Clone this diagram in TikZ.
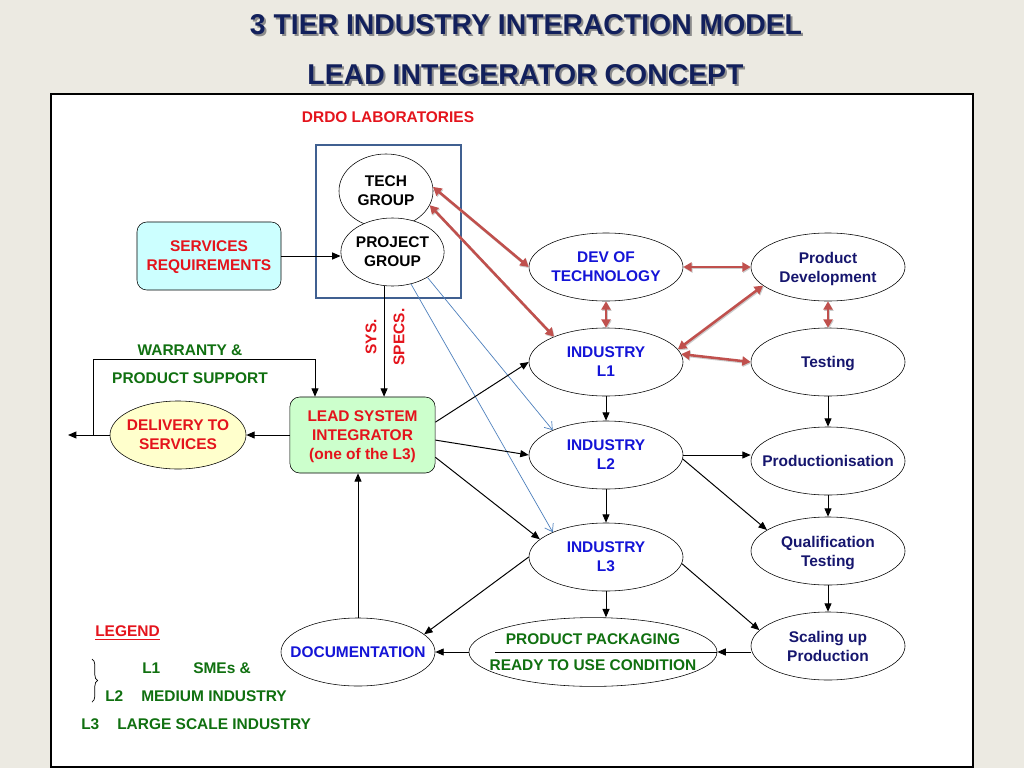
\documentclass[tikz,border=0pt]{standalone}
\usepackage{fontspec}
\setmainfont{Liberation Sans}
\usepackage{graphicx}
\usetikzlibrary{arrows.meta,shapes.geometric,decorations.pathreplacing}

\definecolor{slidebg}{RGB}{236,234,226}
\definecolor{titlenavy}{RGB}{18,32,92}
\definecolor{txtred}{RGB}{228,20,28}
\definecolor{txtgreen}{RGB}{16,112,16}
\definecolor{txtblue}{RGB}{20,20,215}
\definecolor{txtnavy}{RGB}{22,22,110}
\definecolor{linkred}{RGB}{192,80,77}
\definecolor{labblue}{RGB}{64,96,145}
\definecolor{specblue}{RGB}{79,129,189}
\definecolor{cyanfill}{RGB}{204,255,255}
\definecolor{greenfill}{RGB}{204,255,204}
\definecolor{yellowfill}{RGB}{255,255,204}

\begin{document}
\begin{tikzpicture}[x=0.025cm, y=-0.025cm,
    font=\fontsize{11}{13.4}\selectfont\bfseries,
    oval/.style={ellipse, draw, fill=white, minimum width=3.85cm, minimum height=1.7cm,
                 inner xsep=-0.5cm, inner ysep=0pt, text depth=0pt, align=center},
    box/.style={rectangle, rounded corners=7pt, draw, align=center, inner sep=0pt, text depth=0pt},
    arr/.style={-{Triangle[length=6pt,width=5pt]}, line width=0.7pt},
    redarr/.style={{Triangle[length=6pt,width=6.5pt]}-{Triangle[length=6pt,width=6.5pt]},
                   line width=1.8pt, linkred,
                   preaction={draw=black!20, line width=1.8pt, transform canvas={shift={(0.6pt,-0.8pt)}}}},
    bluearr/.style={-{Straight Barb[length=5pt,width=7pt]}, line width=0.5pt, specblue},
    lbl/.style={inner sep=0pt}]

    % Slide background and frame
    \path[use as bounding box, fill=slidebg] (0,0) rectangle (1024,768);
    \draw[line width=1.4pt, fill=white] (51,94) rectangle (973,767);

    % Titles
    \node[lbl, text=black!45] (t1s) at (528,27) {\resizebox{13.8cm}{0.5cm}{3 TIER INDUSTRY INTERACTION MODEL}};
    \node[lbl, text=titlenavy] (t1) at (526,25) {\resizebox{13.8cm}{0.5cm}{3 TIER INDUSTRY INTERACTION MODEL}};
    \node[lbl, text=black!45] (t2s) at (527.5,77) {\resizebox{10.9cm}{0.5cm}{LEAD INTEGERATOR CONCEPT}};
    \node[lbl, text=titlenavy] (t2) at (525.5,75) {\resizebox{10.9cm}{0.5cm}{LEAD INTEGERATOR CONCEPT}};

    % DRDO block
    \node[lbl, text=txtred] (drdo) at (388,117) {DRDO LABORATORIES};
    \draw[labblue, line width=2pt] (316,145) rectangle (461,298);
    \node[oval, minimum width=2.35cm, minimum height=1.85cm] (tg) at (386,191) {TECH\\GROUP};
    \node[oval, minimum width=2.58cm] (pg) at (392.5,252) {PROJECT\\GROUP};
    \node[box, fill=cyanfill, text=txtred, minimum width=3.6cm, minimum height=1.7cm] (sr) at (209,256) {SERVICES\\REQUIREMENTS};

    % Industry tiers and product flow
    \node[oval, text=txtblue] (dev) at (606,267) {DEV OF\\TECHNOLOGY};
    \node[oval, text=txtnavy] (pd) at (828,267) {Product\\Development};
    \node[oval, text=txtblue] (l1) at (606,362) {INDUSTRY\\L1};
    \node[oval, text=txtnavy] (ts) at (828,362) {Testing};
    \node[oval, text=txtblue] (l2) at (606,455) {INDUSTRY\\L2};
    \node[oval, text=txtnavy] (pr) at (828,461) {Productionisation};
    \node[oval, text=txtblue] (l3) at (606,557) {INDUSTRY\\L3};
    \node[oval, text=txtnavy] (qt) at (828,551) {Qualification\\Testing};
    \node[oval, text=txtnavy] (sc) at (828,646) {Scaling up\\Production};
    \node[oval, text=txtgreen, minimum width=6.2cm, minimum height=1.72cm] (pk) at (593,652) {PRODUCT PACKAGING\\[5pt]READY TO USE CONDITION};
    \node[oval, text=txtblue] (doc) at (358,652) {DOCUMENTATION};

    % Integrator and delivery
    \node[box, fill=greenfill, text=txtred, minimum width=3.63cm, minimum height=1.9cm] (lsi) at (362.5,435) {LEAD SYSTEM\\INTEGRATOR\\(one of the L3)};
    \node[oval, fill=yellowfill, text=txtred, minimum width=3.4cm] (dl) at (178,435) {DELIVERY TO\\SERVICES};
    \node[lbl, text=txtgreen] (war) at (190,350) {WARRANTY \&};
    \node[lbl, text=txtgreen] (sup) at (190,378) {PRODUCT SUPPORT};
    \node[lbl, text=txtred, rotate=90] (sys) at (371,337) {SYS.};
    \node[lbl, text=txtred, rotate=90] (spec) at (399,337) {SPECS.};

    % Legend
    \node[lbl, text=txtred, anchor=west] (leg) at (95,633) {\underline{LEGEND}};
    \node[lbl, text=txtgreen, anchor=west] (lg1) at (142,668) {L1};
    \node[lbl, text=txtgreen, anchor=west] (lg1t) at (193,668) {SMEs \&};
    \node[lbl, text=txtgreen, anchor=west] (lg2) at (105,696) {L2};
    \node[lbl, text=txtgreen, anchor=west] (lg2t) at (141,696) {MEDIUM INDUSTRY};
    \node[lbl, text=txtgreen, anchor=west] (lg3) at (81,724) {L3};
    \node[lbl, text=txtgreen, anchor=west] (lg3t) at (117,724) {LARGE SCALE INDUSTRY};
    \draw[decorate, decoration={brace, amplitude=4pt}, line width=0.5pt] (92,659) -- (92,702);

    % Coordinates for free ends
    \coordinate (out) at (68,435);
    \coordinate (wb) at (93,435);
    \coordinate (wt) at (315,359);
    \coordinate (pkl) at (495,652);

    % Red links
    \draw[redarr] (tg.5) -- (dev.west);
    \draw[redarr] (tg.-18) -- (l1.154);
    \draw[redarr] (dev.east) -- (pd.west);
    \draw[redarr] (dev.south) -- (l1.north);
    \draw[redarr] (pd.south) -- (ts.north);
    \draw[redarr] (l1.10) -- (pd.196);
    \draw[redarr] (l1.6) -- (ts.west);

    % Blue spec lines
    \draw[bluearr] (pg.300) -- (l3.155);
    \draw[bluearr] (pg.324) -- (l2.155);

    % Black edges
    \draw[arr] (sr.east) -- (sr.east -| pg.west);
    \draw[arr] (pg.256) -- (pg.256 |- lsi.north);
    \draw[arr] (wb) |- (wt) -- (wt |- lsi.north);
    \draw[arr] (lsi.west) -- (dl.east);
    \draw[arr] (dl.west) -- (out);
    \draw[arr] (doc.north) -- (doc.north |- lsi.south);
    \draw[arr] (lsi.10) -- (l1.west);
    \draw[arr] (lsi.-4) -- (l2.west);
    \draw[arr] (lsi.-17) -- (l3.165);
    \draw[arr] (l1.south) -- (l2.north);
    \draw[arr] (l2.south) -- (l3.north);
    \draw[arr] (l3.south) -- (l3.south |- pk.north);
    \draw[arr] (l3.west) -- (doc.15);
    \draw[arr] (l3.-5) -- (sc.167);
    \draw[arr] (l2.east) -- (l2.east -| pr.west);
    \draw[arr] (l2.-3) -- (qt.161);
    \draw[arr] (ts.south) -- (pr.north);
    \draw[arr] (pr.south) -- (qt.north);
    \draw[arr] (qt.south) -- (sc.north);
    \draw[arr] (pk.east -| sc.west) -- (pk.east);
    \draw[arr] (pk.west) -- (doc.east);
    \draw[line width=0.7pt] (pkl) -- (pk.east);

\end{tikzpicture}
\end{document}
